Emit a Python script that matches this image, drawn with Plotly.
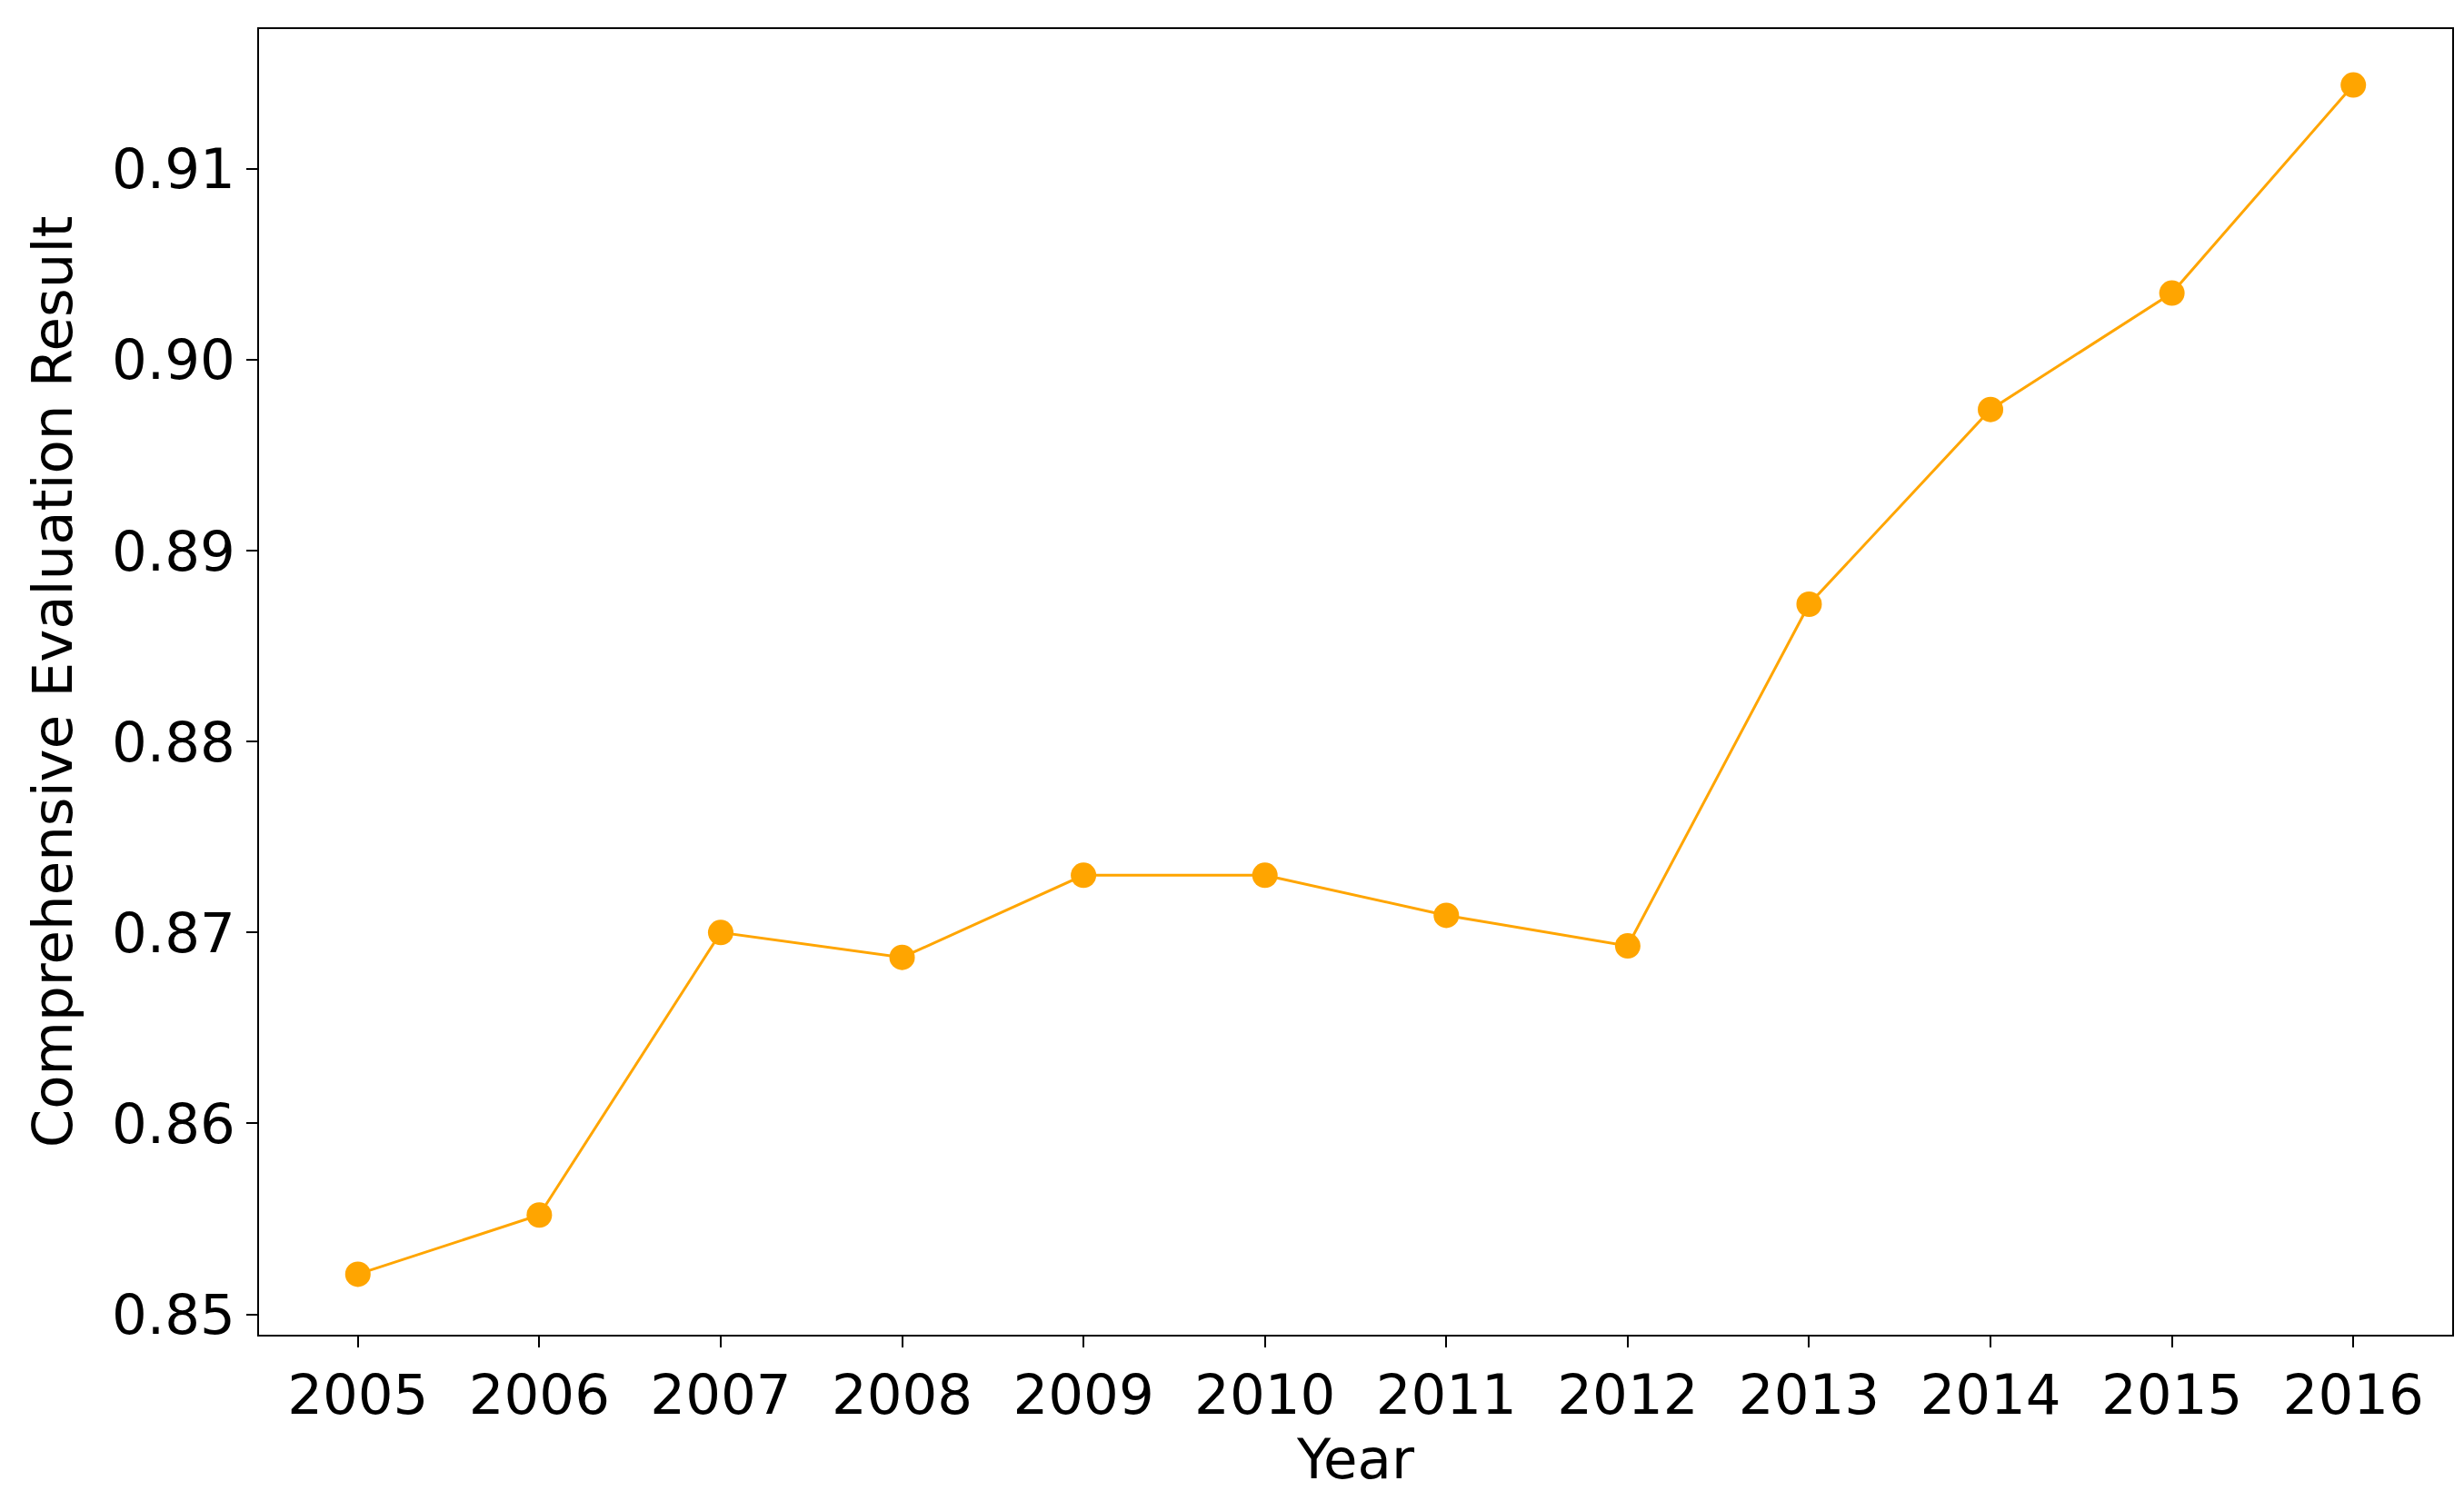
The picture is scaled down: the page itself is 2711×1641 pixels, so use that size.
import plotly.graph_objects as go

years = [2005, 2006, 2007, 2008, 2009, 2010, 2011, 2012, 2013, 2014, 2015, 2016]
scores = [0.8521, 0.8552, 0.8700, 0.8687, 0.8730, 0.8730, 0.8709, 0.8693, 0.8872, 0.8974, 0.9035, 0.9144]

fig = go.Figure(go.Scatter(
    x=years, y=scores, mode="lines+markers",
    line=dict(color="#FFA500", width=3),
    marker=dict(color="#FFA500", size=28),
))

axis_common = dict(
    showgrid=False, zeroline=False, showline=True, mirror=True,
    linecolor="black", linewidth=2, ticks="outside", ticklen=12, tickwidth=2,
    tickcolor="black", tickfont=dict(size=61, color="black"),
)
fig.update_xaxes(range=[2004.455, 2016.545], tickvals=years,
                 title=dict(text="Year", font=dict(size=61, color="black"), standoff=4),
                 **axis_common)
fig.update_yaxes(range=[0.84893, 0.91733], tickvals=[0.85, 0.86, 0.87, 0.88, 0.89, 0.90, 0.91],
                 tickformat=".2f",
                 title=dict(text="Comprehensive Evaluation Result", font=dict(size=61, color="black"), standoff=24),
                 **axis_common)
fig.update_layout(
    width=2711, height=1641, plot_bgcolor="white", paper_bgcolor="white",
    font=dict(family="DejaVu Sans"), showlegend=False,
    margin=dict(l=277, r=21, t=24, b=180),
)
fig.write_html("out.html")
